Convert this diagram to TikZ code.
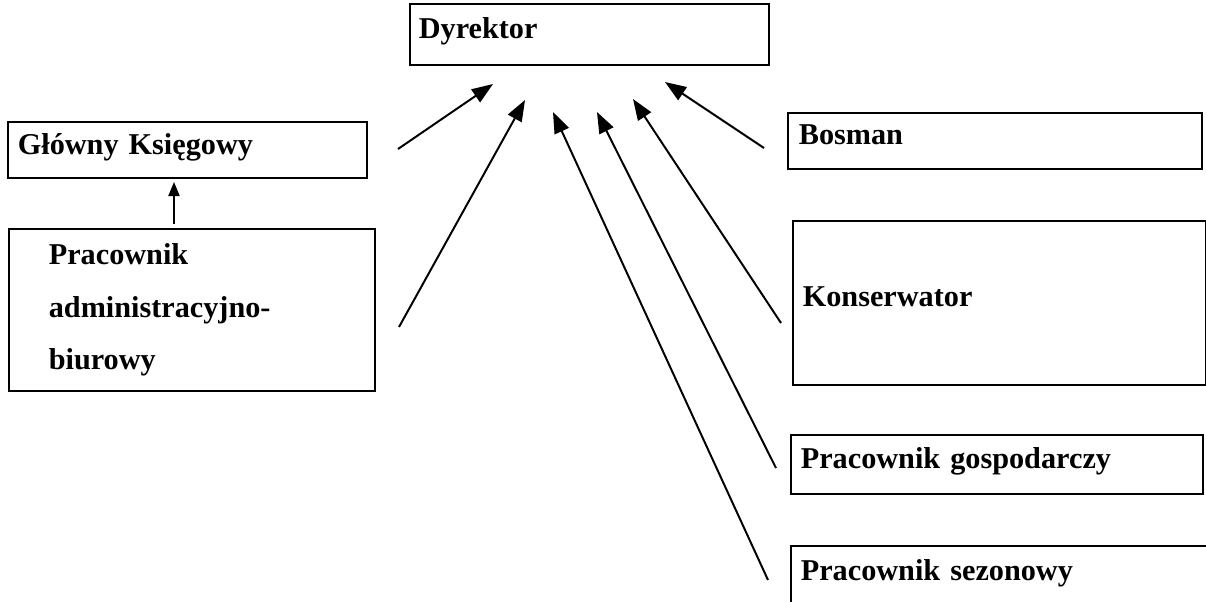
\documentclass[tikz,border=0pt]{standalone}
\usepackage{fontspec}
\setmainfont{Liberation Serif}
\usetikzlibrary{arrows.meta}
\newcommand{\pxu}{0.025cm}
\tikzset{
  box/.style={draw, line width=1.2pt, rectangle, anchor=north west,
    inner ysep=0pt, align=left,
    font=\fontsize{21.5}{37.6}\selectfont\bfseries},
  oneline/.style={text depth=9pt},
  multiline/.style={},
  link/.style={line width=1.4pt, -{Triangle[length=15pt,width=11pt]}},
  minor/.style={line width=1pt, -{Triangle[length=10pt,width=8pt]}}
}
\newcommand{\boxat}[8]{% options, name, x, y, width, height, left pad, text
  \node[box, #1, inner xsep={#7*\pxu}, text width={(#5-2*#7)*\pxu},
        minimum height={#6*\pxu}] (#2) at (#3,#4) {#8};}
\begin{document}
\begin{tikzpicture}[x=\pxu, y=-\pxu]
\useasboundingbox (0,0) rectangle (1206,601);

\boxat{oneline}{dyr}{409}{3}{359}{61}{9}{Dyrektor}
\boxat{oneline}{gk}{7}{121}{359}{56}{10}{Główny Księgowy}
\boxat{multiline}{pab}{8}{228}{366}{162}{40}{Pracownik\\administracyjno-\\biurowy}
\boxat{oneline}{bos}{787}{112}{414}{56}{11}{Bosman}
\boxat{oneline}{kon}{792}{220}{413}{164}{10}{Konserwator}
\boxat{oneline}{pg}{790}{434}{412}{59}{10}{Pracownik gospodarczy}
\boxat{oneline}{ps}{790}{545}{425}{60}{10}{Pracownik sezonowy}

% free ends of the reporting arrows
\coordinate (gkT) at (398,149);  \coordinate (gkH) at (493,84);
\coordinate (pabT) at (399,327); \coordinate (pabH) at (525,100);
\coordinate (psT) at (768,580);  \coordinate (psH) at (553,112);
\coordinate (pgT) at (776,468);  \coordinate (pgH) at (597,112);
\coordinate (konT) at (781,323); \coordinate (konH) at (633,99);
\coordinate (bosT) at (764,148); \coordinate (bosH) at (665,82);
\coordinate (pabU) at (174,224); \coordinate (gkD) at (174,182);

\draw[link] (gkT) -- (gkH);
\draw[link] (pabT) -- (pabH);
\draw[link] (psT) -- (psH);
\draw[link] (pgT) -- (pgH);
\draw[link] (konT) -- (konH);
\draw[link] (bosT) -- (bosH);
\draw[minor] (pabU) -- (gkD);
\end{tikzpicture}
\end{document}
